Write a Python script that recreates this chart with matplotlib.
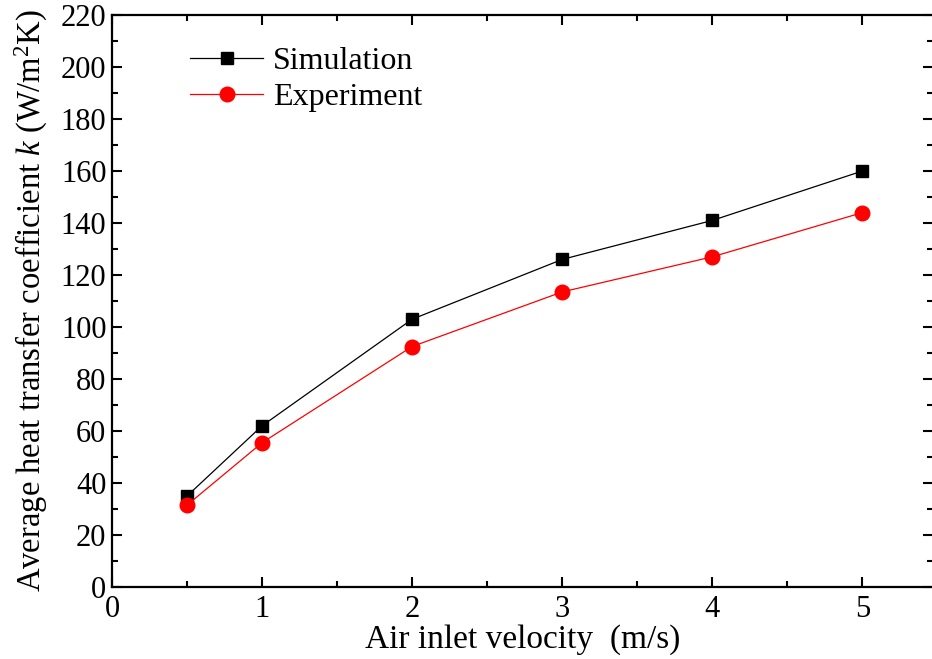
import matplotlib
matplotlib.use('Agg')
import matplotlib.pyplot as plt
from matplotlib.ticker import MultipleLocator

# 数据
velocity = [0.5, 1, 2, 3, 4, 5]
k_simulation = [35, 62, 103, 126, 141, 160]
k_experiment = [31.5, 55.5, 92.5, 113.5, 127, 144]

x_ticks = [0, 1, 2, 3, 4, 5]
y_ticks = list(range(0, 221, 20))

plt.rcParams['font.family'] = ['Liberation Serif', 'DejaVu Serif']
plt.rcParams['mathtext.fontset'] = 'custom'
plt.rcParams['mathtext.rm'] = 'Liberation Serif'
plt.rcParams['mathtext.it'] = 'Liberation Serif:italic'

fig = plt.figure(figsize=(9.32, 6.59), dpi=100)
ax = fig.add_axes([112 / 932, 72 / 659, 821 / 932, 572 / 659])

ax.plot(velocity, k_simulation, color='black', linewidth=0.9, marker='s',
        markersize=9, label='Simulation')
ax.plot(velocity, k_experiment, color='red', linewidth=0.9, marker='o',
        markersize=10.5, label='Experiment')

ax.set_xlim(0, 5.47)
ax.set_ylim(0, 220)
ax.set_xticks(x_ticks)
ax.set_yticks(y_ticks)
ax.xaxis.set_minor_locator(MultipleLocator(0.5))
ax.yaxis.set_minor_locator(MultipleLocator(10))
ax.tick_params(which='both', direction='in', top=True, right=True,
               labeltop=False, labelright=False, width=1.5)
ax.tick_params(which='major', length=7, labelsize=22)
ax.tick_params(which='minor', length=4)
ax.tick_params(axis='x', which='major', pad=6)
ax.tick_params(axis='y', which='major', pad=4)
for s in ax.spines.values():
    s.set_linewidth(1.6)

ax.set_xlabel('Air inlet velocity  (m/s)', fontsize=24, labelpad=0)
ax.set_ylabel('Average heat transfer coefficient $k$ (W/m$^2$K)', fontsize=23.5,
              labelpad=8)

ax.legend(loc='upper left', bbox_to_anchor=(0.06, 0.995), frameon=False,
          fontsize=23, handlelength=2.3, handletextpad=0.3, labelspacing=0.2)

plt.savefig('out.png', dpi=100)
